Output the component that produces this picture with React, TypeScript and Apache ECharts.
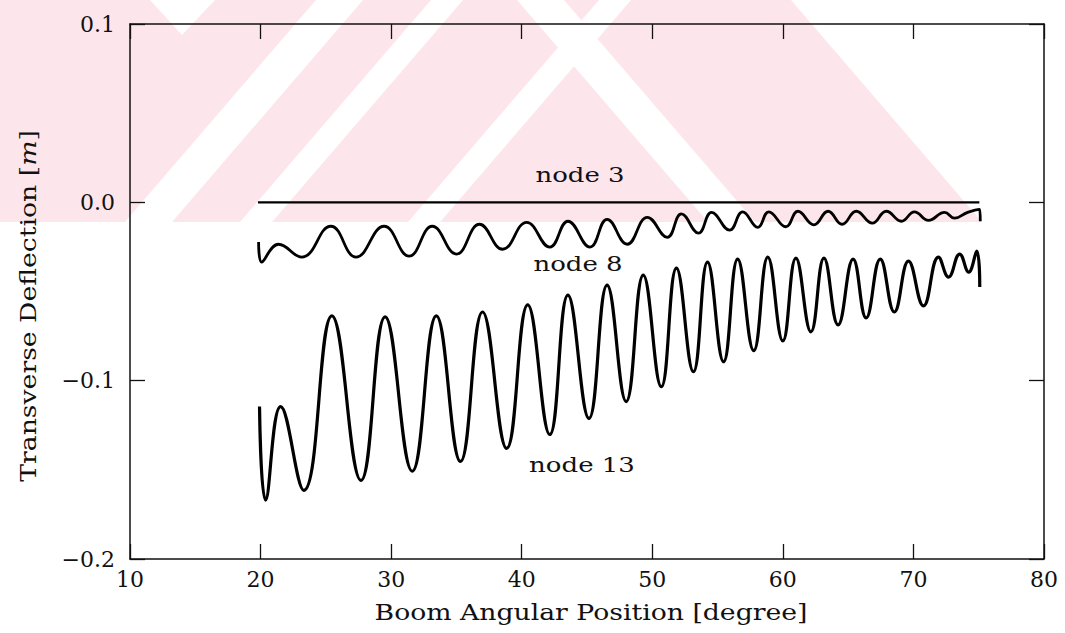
import React, { useEffect, useRef } from "react";
import * as echarts from "echarts";

// ---- data ----
const xTicks = [10, 20, 30, 40, 50, 60, 70, 80];
const yTicks = [-0.2, -0.1, 0.0, 0.1];

const node3X = [19.8, 75.05];
const node3Y = [0, 0];

const node8X = [
  19.85, 20.08, 21.38, 23.15, 25.38, 27.31, 29.46, 31.38, 33.15, 35.0, 36.77, 38.54,
  40.38, 42.15, 43.54, 45.23, 46.54, 48.08, 49.62, 51.15, 52.23, 53.54, 54.54, 55.92,
  56.92, 58.08, 58.92, 60.23, 61.15, 62.38, 63.46, 64.54, 65.62, 66.85, 67.92, 69.08,
  70.08, 71.15, 72.38, 73.15, 74.15, 75.08, 75.12,
];
const node8Y = [
  -0.0223, -0.0335, -0.0235, -0.0307, -0.0134, -0.0307, -0.0134, -0.0302, -0.0134, -0.029, -0.0123, -0.0263,
  -0.0112, -0.0251, -0.0106, -0.0251, -0.0095, -0.0235, -0.0084, -0.0196, -0.0065, -0.0173, -0.0056, -0.0156,
  -0.0053, -0.014, -0.0053, -0.0137, -0.005, -0.0126, -0.005, -0.0123, -0.005, -0.0117, -0.005, -0.0106,
  -0.0053, -0.0101, -0.0056, -0.0089, -0.0056, -0.0039, -0.0106,
];

const node13X = [
  19.92, 20.38, 21.54, 23.31, 25.46, 27.69, 29.54, 31.62, 33.46, 35.31, 37.0, 38.85,
  40.46, 42.15, 43.54, 45.15, 46.54, 48.0, 49.31, 50.69, 51.85, 53.15, 54.23, 55.46,
  56.54, 57.77, 58.85, 60.0, 61.0, 62.15, 63.15, 64.23, 65.38, 66.38, 67.46, 68.54,
  69.62, 70.77, 71.92, 72.69, 73.54, 74.23, 74.85, 75.08,
];
const node13Y = [
  -0.1145, -0.167, -0.1145, -0.1615, -0.0637, -0.1559, -0.0642, -0.1508, -0.0637, -0.1453, -0.0615, -0.138,
  -0.0575, -0.1302, -0.052, -0.1212, -0.0464, -0.1117, -0.0408, -0.1034, -0.0369, -0.095, -0.0335, -0.0894,
  -0.0318, -0.0832, -0.0307, -0.0777, -0.0313, -0.0726, -0.0313, -0.0687, -0.0318, -0.0648, -0.0318, -0.0615,
  -0.033, -0.0581, -0.0307, -0.0419, -0.029, -0.0391, -0.0274, -0.0475,
];

const nodeLabels = ["node 3", "node 8", "node 13"];
const xTitle = "Boom Angular Position [degree]";

const FONT = "DejaVu Serif";
const INK = "#111";
const PINK = "#fde6eb";

const zip = (xs: number[], ys: number[]) => xs.map((x, i) => [x, ys[i]]);

const fmtY = (v: number) => {
  const s = Math.abs(v).toFixed(1);
  return v < -1e-9 ? "\u2212" + s : s;
};

// decorative watermark stripes (page pixels)
const whiteStripes: number[][][] = [
  [[150, 0], [215, 0], [182, 35]],
  [[125, 222], [172, 222], [363, 0], [316, 0]],
  [[240, 222], [272, 222], [463, 0], [431, 0]],
  [[408, 222], [440, 222], [631, 0], [599, 0]],
  [[708, 222], [755, 222], [564, 0], [517, 0]],
  [[982, 222], [1065, 222], [1065, 0], [791, 0]],
];

export default function App() {
  const ref = useRef<HTMLDivElement>(null);
  useEffect(() => {
    if (!ref.current) return;
    const chart = echarts.init(ref.current, undefined, { renderer: "svg" });

    const axisCommon = {
      type: "value" as const,
      axisLine: { show: true, onZero: false, lineStyle: { color: INK, width: 1.5 } },
      axisTick: { show: true, inside: true, length: 15, lineStyle: { color: INK, width: 1.3 } },
      splitLine: { show: false },
    };

    const tickLabel = {
      show: true,
      color: INK,
      fontFamily: FONT,
      fontSize: 22,
      textStyle: { fontSize: 22, fontFamily: FONT, color: INK },
    };

    const lineSeries = (name: string, data: number[][], width: number, smooth: number | boolean) => ({
      type: "line",
      name,
      data,
      xAxisIndex: 0,
      yAxisIndex: 0,
      symbol: "none",
      showSymbol: false,
      smooth,
      lineStyle: { color: "#000", width },
      z: 5,
    });

    const watermark: any[] = [
      { type: "rect", z: -10, shape: { x: 0, y: 0, width: 1065, height: 222 }, style: { fill: PINK } },
      ...whiteStripes.map((pts) => ({
        type: "polygon",
        z: -9,
        shape: { points: pts },
        style: { fill: "#fff" },
      })),
    ];

    const nodeText = (text: string, x: number, y: number) => ({
      type: "text",
      x,
      y,
      scaleX: 1.3,
      z: 20,
      style: { text, font: `20px "${FONT}"`, fill: INK, align: "center", verticalAlign: "middle" },
    });

    const texts: any[] = [
      nodeText(nodeLabels[0], 580, 175),
      nodeText(nodeLabels[1], 578, 264),
      nodeText(nodeLabels[2], 582, 465),
      {
        type: "text",
        x: 591,
        y: 612,
        scaleX: 1.16,
        z: 20,
        style: { text: xTitle, font: `23px "${FONT}"`, fill: INK, align: "center", verticalAlign: "middle" },
      },
      {
        type: "text",
        x: 28,
        y: 306,
        rotation: Math.PI / 2,
        scaleX: 1.16,
        z: 20,
        style: {
          text: "Transverse Deflection [{i|m}]",
          font: `23px "${FONT}"`,
          fill: INK,
          align: "center",
          verticalAlign: "middle",
          rich: { i: { fontStyle: "italic", fontSize: 23, fontFamily: FONT, fill: INK } },
        },
      },
    ];

    chart.setOption({
      animation: false,
      backgroundColor: "#fff",
      textStyle: { fontFamily: FONT },
      grid: { left: 130, right: 21, top: 24, bottom: 74, containLabel: false },
      xAxis: [
        {
          ...axisCommon,
          position: "bottom",
          min: xTicks[0],
          max: xTicks[xTicks.length - 1],
          interval: 10,
          axisLabel: { ...tickLabel, margin: 9 },
        },
        {
          ...axisCommon,
          position: "top",
          min: xTicks[0],
          max: xTicks[xTicks.length - 1],
          interval: 10,
          axisLabel: { show: false },
        },
      ],
      yAxis: [
        {
          ...axisCommon,
          position: "left",
          min: yTicks[0],
          max: yTicks[yTicks.length - 1],
          interval: 0.1,
          axisLabel: { ...tickLabel, margin: 15, formatter: fmtY },
        },
        {
          ...axisCommon,
          position: "right",
          min: yTicks[0],
          max: yTicks[yTicks.length - 1],
          interval: 0.1,
          axisLabel: { show: false },
        },
      ],
      graphic: [...watermark, ...texts],
      series: [
        lineSeries(nodeLabels[0], zip(node3X, node3Y), 2.3, false),
        lineSeries(nodeLabels[1], zip(node8X, node8Y), 2.8, 0.45),
        lineSeries(nodeLabels[2], zip(node13X, node13Y), 3.2, 0.45),
      ],
    });
    return () => chart.dispose();
  }, []);
  return (
    <div
      ref={ref}
      style={{ position: "fixed", left: 0, top: 0, width: 1065, height: 633, background: "#fff" }}
    />
  );
}
